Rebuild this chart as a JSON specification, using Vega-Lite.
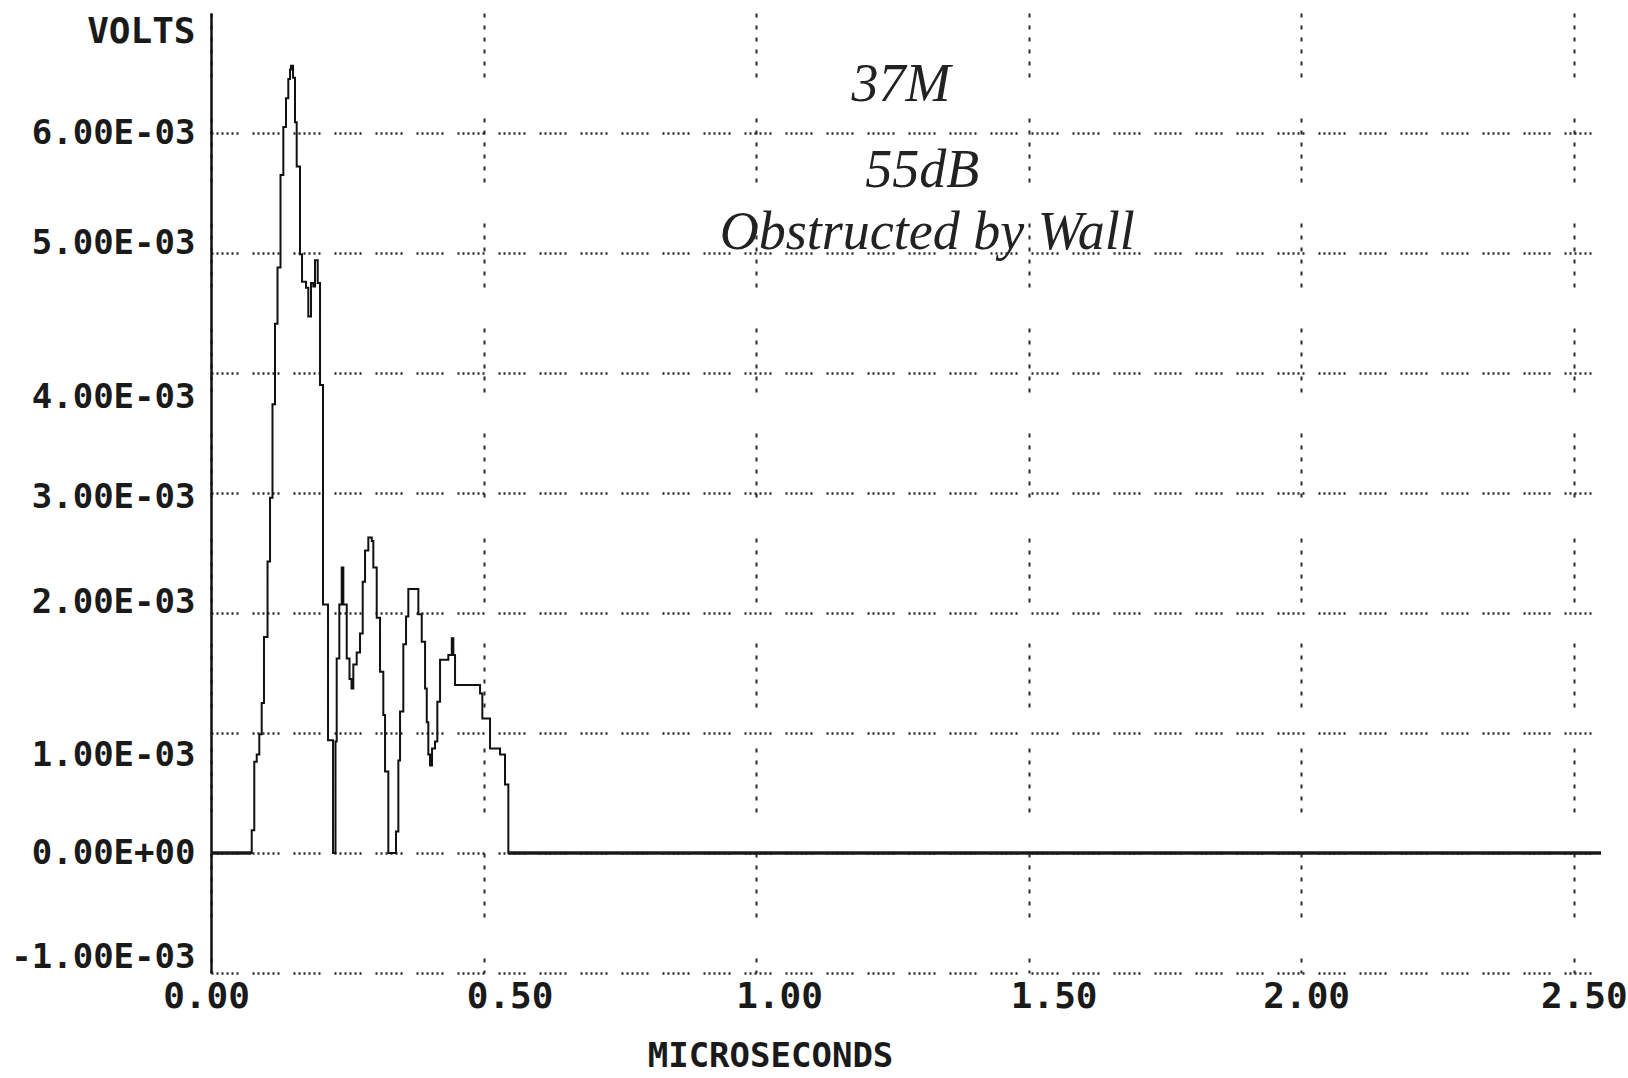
{
  "$schema": "https://vega.github.io/schema/vega-lite/v6.json",
  "width": 1390,
  "height": 960,
  "autosize": {"type": "none"},
  "padding": {"left": 211, "top": 13, "right": 27, "bottom": 105},
  "background": "white",
  "config": {"view": {"stroke": null}},
  "datasets": {
    "trace": [
      {"t": 0, "v": 0, "phase": "before"},
      {"t": 0.074, "v": 0, "phase": "before"},
      {"t": 0.0747, "v": 0.00019, "phase": "pulse"},
      {"t": 0.0794, "v": 0.00076, "phase": "pulse"},
      {"t": 0.0839, "v": 0.00082, "phase": "pulse"},
      {"t": 0.0886, "v": 0.00099, "phase": "pulse"},
      {"t": 0.0930, "v": 0.00125, "phase": "pulse"},
      {"t": 0.0972, "v": 0.00180, "phase": "pulse"},
      {"t": 0.1037, "v": 0.00243, "phase": "pulse"},
      {"t": 0.1083, "v": 0.00296, "phase": "pulse"},
      {"t": 0.1128, "v": 0.00374, "phase": "pulse"},
      {"t": 0.1174, "v": 0.00441, "phase": "pulse"},
      {"t": 0.1220, "v": 0.00488, "phase": "pulse"},
      {"t": 0.1275, "v": 0.00565, "phase": "pulse"},
      {"t": 0.1327, "v": 0.00605, "phase": "pulse"},
      {"t": 0.1376, "v": 0.00629, "phase": "pulse"},
      {"t": 0.1418, "v": 0.00645, "phase": "pulse"},
      {"t": 0.1450, "v": 0.00653, "phase": "pulse"},
      {"t": 0.1468, "v": 0.00656, "phase": "pulse"},
      {"t": 0.1505, "v": 0.00646, "phase": "pulse"},
      {"t": 0.1541, "v": 0.00609, "phase": "pulse"},
      {"t": 0.1572, "v": 0.00572, "phase": "pulse"},
      {"t": 0.1633, "v": 0.00499, "phase": "pulse"},
      {"t": 0.1670, "v": 0.00476, "phase": "pulse"},
      {"t": 0.1743, "v": 0.00471, "phase": "pulse"},
      {"t": 0.1785, "v": 0.00447, "phase": "pulse"},
      {"t": 0.1835, "v": 0.00475, "phase": "pulse"},
      {"t": 0.1877, "v": 0.00472, "phase": "pulse"},
      {"t": 0.1908, "v": 0.00494, "phase": "pulse"},
      {"t": 0.1958, "v": 0.00475, "phase": "pulse"},
      {"t": 0.2000, "v": 0.00390, "phase": "pulse"},
      {"t": 0.2055, "v": 0.00207, "phase": "pulse"},
      {"t": 0.2147, "v": 0.00094, "phase": "pulse"},
      {"t": 0.2239, "v": 0.00000, "phase": "pulse"},
      {"t": 0.2284, "v": 0.00093, "phase": "pulse"},
      {"t": 0.2306, "v": 0.00162, "phase": "pulse"},
      {"t": 0.2354, "v": 0.00207, "phase": "pulse"},
      {"t": 0.2398, "v": 0.00238, "phase": "pulse"},
      {"t": 0.2428, "v": 0.00207, "phase": "pulse"},
      {"t": 0.2490, "v": 0.00162, "phase": "pulse"},
      {"t": 0.2541, "v": 0.00145, "phase": "pulse"},
      {"t": 0.2578, "v": 0.00137, "phase": "pulse"},
      {"t": 0.2611, "v": 0.00157, "phase": "pulse"},
      {"t": 0.2673, "v": 0.00167, "phase": "pulse"},
      {"t": 0.2734, "v": 0.00183, "phase": "pulse"},
      {"t": 0.2783, "v": 0.00226, "phase": "pulse"},
      {"t": 0.2826, "v": 0.00252, "phase": "pulse"},
      {"t": 0.2886, "v": 0.00263, "phase": "pulse"},
      {"t": 0.2949, "v": 0.00260, "phase": "pulse"},
      {"t": 0.2978, "v": 0.00238, "phase": "pulse"},
      {"t": 0.3040, "v": 0.00196, "phase": "pulse"},
      {"t": 0.3101, "v": 0.00151, "phase": "pulse"},
      {"t": 0.3161, "v": 0.00115, "phase": "pulse"},
      {"t": 0.3193, "v": 0.00068, "phase": "pulse"},
      {"t": 0.3253, "v": 0.00000, "phase": "pulse"},
      {"t": 0.3394, "v": 0.00018, "phase": "pulse"},
      {"t": 0.3437, "v": 0.00077, "phase": "pulse"},
      {"t": 0.3468, "v": 0.00118, "phase": "pulse"},
      {"t": 0.3528, "v": 0.00174, "phase": "pulse"},
      {"t": 0.3578, "v": 0.00197, "phase": "pulse"},
      {"t": 0.3620, "v": 0.00220, "phase": "pulse"},
      {"t": 0.3804, "v": 0.00199, "phase": "pulse"},
      {"t": 0.3866, "v": 0.00176, "phase": "pulse"},
      {"t": 0.3927, "v": 0.00137, "phase": "pulse"},
      {"t": 0.3958, "v": 0.00109, "phase": "pulse"},
      {"t": 0.3987, "v": 0.00082, "phase": "pulse"},
      {"t": 0.4018, "v": 0.00073, "phase": "pulse"},
      {"t": 0.4055, "v": 0.00087, "phase": "pulse"},
      {"t": 0.4110, "v": 0.00093, "phase": "pulse"},
      {"t": 0.4152, "v": 0.00126, "phase": "pulse"},
      {"t": 0.4202, "v": 0.00161, "phase": "pulse"},
      {"t": 0.4354, "v": 0.00165, "phase": "pulse"},
      {"t": 0.4417, "v": 0.00179, "phase": "pulse"},
      {"t": 0.4446, "v": 0.00165, "phase": "pulse"},
      {"t": 0.4477, "v": 0.00140, "phase": "pulse"},
      {"t": 0.4936, "v": 0.00133, "phase": "pulse"},
      {"t": 0.4978, "v": 0.00112, "phase": "pulse"},
      {"t": 0.5119, "v": 0.00087, "phase": "pulse"},
      {"t": 0.5303, "v": 0.00082, "phase": "pulse"},
      {"t": 0.5394, "v": 0.00057, "phase": "pulse"},
      {"t": 0.5455, "v": 0, "phase": "after"},
      {"t": 2.55, "v": 0, "phase": "after"}
    ],
    "notes": [
      {"t": 1.266, "v": 0.0064, "note": "37M"},
      {"t": 1.305, "v": 0.00568, "note": "55dB"},
      {"t": 1.314, "v": 0.00517, "note": "Obstructed by Wall"}
    ]
  },
  "encoding": {
    "x": {
      "field": "t",
      "type": "quantitative",
      "scale": {"domain": [0, 2.55], "nice": false, "zero": false},
      "axis": {
        "title": "MICROSECONDS",
        "titleFont": "DejaVu Sans Mono",
        "titleFontSize": 34,
        "titleFontWeight": "bold",
        "titleColor": "#1a1a1a",
        "titleX": 559,
        "titleY": 83,
        "titleAlign": "center",
        "titleBaseline": "middle",
        "values": [0, 0.5, 1, 1.5, 2, 2.5],
        "format": ".2f",
        "labelFont": "DejaVu Sans Mono",
        "labelFontSize": 36,
        "labelFontWeight": "bold",
        "labelColor": "#1a1a1a",
        "labelPadding": 6,
        "labelOffset": {
          "condition": [
            {"test": "round(datum.value * 100) == 0", "value": -5},
            {"test": "round(datum.value * 100) == 50", "value": 26},
            {"test": "round(datum.value * 100) == 100", "value": 23},
            {"test": "round(datum.value * 100) == 150", "value": 25},
            {"test": "round(datum.value * 100) == 200", "value": 5}
          ],
          "value": 10
        },
        "labelFlush": false,
        "labelOverlap": false,
        "labelLimit": 400,
        "ticks": false,
        "domain": false,
        "grid": true,
        "gridColor": "#2a2a2a",
        "gridWidth": 2,
        "gridDash": [4, 8, 4, 8, 4, 8, 4, 8, 4, 8, 4, 41]
      }
    },
    "y": {
      "field": "v",
      "type": "quantitative",
      "scale": {"domain": [-0.001, 0.007], "nice": false, "zero": false},
      "axis": {
        "title": "VOLTS",
        "titleFont": "DejaVu Sans Mono",
        "titleFontSize": 36,
        "titleFontWeight": "bold",
        "titleColor": "#1a1a1a",
        "titleAngle": 0,
        "titleAlign": "right",
        "titleBaseline": "middle",
        "titleX": -16,
        "titleY": 18,
        "values": [-0.001, 0, 0.001, 0.002, 0.003, 0.004, 0.005, 0.006],
        "labelExpr": "datum.value == 0 ? '0.00E+00' : (datum.value < 0 ? '-' : '') + format(abs(datum.value) * 1000, '.2f') + 'E-03'",
        "labelFont": "DejaVu Sans Mono",
        "labelFontSize": 34,
        "labelFontWeight": "bold",
        "labelColor": "#1a1a1a",
        "labelPadding": 16,
        "labelOffset": {
          "condition": [
            {"test": "round(datum.value * 1000) == 5", "value": -10},
            {"test": "round(datum.value * 1000) == 4", "value": 24},
            {"test": "round(datum.value * 1000) == 3", "value": 4},
            {"test": "round(datum.value * 1000) == 2", "value": -11},
            {"test": "round(datum.value * 1000) == 1", "value": 22},
            {"test": "round(datum.value * 1000) == -1", "value": -16}
          ],
          "value": 0
        },
        "labelFlush": false,
        "labelOverlap": false,
        "labelLimit": 400,
        "ticks": false,
        "domain": true,
        "domainColor": "#111111",
        "domainWidth": 2.5,
        "grid": true,
        "gridColor": "#2a2a2a",
        "gridWidth": 2.5,
        "gridDash": [2, 3, 2, 3, 2, 3, 2, 3, 2, 3, 2, 14]
      }
    }
  },
  "layer": [
    {
      "data": {"name": "trace"},
      "mark": {"type": "line", "interpolate": "step-after", "color": "#111111", "strokeWidth": 2}
    },
    {
      "data": {"name": "trace"},
      "transform": [{"filter": "datum.phase !== 'pulse'"}],
      "mark": {"type": "line", "color": "#1a1a1a", "strokeWidth": 3.5},
      "encoding": {"detail": {"field": "phase"}}
    },
    {
      "data": {"name": "notes"},
      "mark": {
        "type": "text",
        "font": "Liberation Serif",
        "fontStyle": "italic",
        "fontSize": 54,
        "color": "#222222",
        "align": "center",
        "baseline": "middle"
      },
      "encoding": {"text": {"field": "note"}}
    }
  ]
}
